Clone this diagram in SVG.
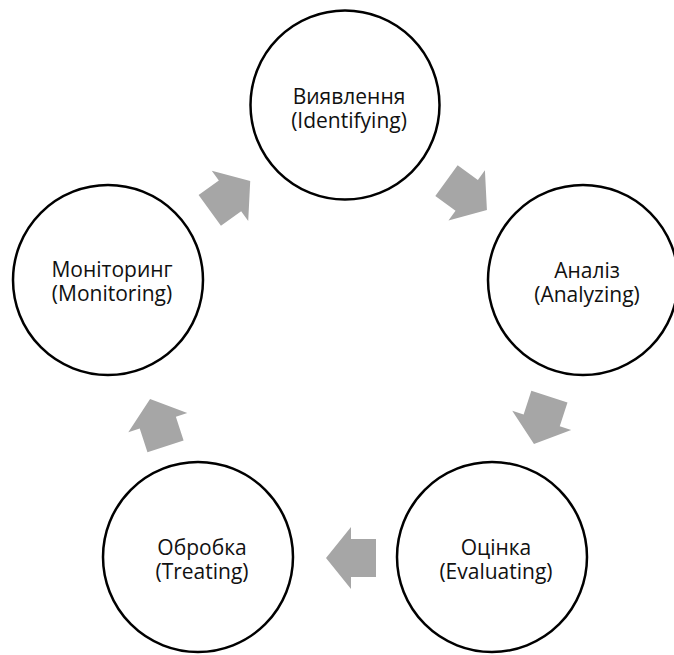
<svg xmlns="http://www.w3.org/2000/svg" width="674" height="655" viewBox="0 0 674 655">
<style>
.node circle{fill:#fff;stroke:#000;stroke-width:2.5}
.node text{font-family:"Open Sans","Liberation Sans",sans-serif;font-size:21px;fill:#111;text-anchor:middle}
.arr{fill:#a6a6a6}
</style>
<defs>
<path id="blk" d="M-25,-19 L0,-19 L0,-31 L25,0 L0,31 L0,19 L-25,19 Z"/>
</defs>
<rect width="674" height="655" fill="#fff"/>
<g id="connectors">
<use href="#blk" class="arr" transform="translate(466.7,195.3) rotate(36)"/>
<use href="#blk" class="arr" transform="translate(541.7,420.3) rotate(108)"/>
<use href="#blk" class="arr" transform="translate(351,558) rotate(180)"/>
<use href="#blk" class="arr" transform="translate(157.8,422.7) rotate(-108)"/>
<use href="#blk" class="arr" transform="translate(230,195.8) rotate(-36)"/>
</g>
<g id="identifying" class="node">
<circle cx="345" cy="105" r="94.5"/>
<text x="349" y="104">Виявлення</text>
<text x="349" y="128">(Identifying)</text>
</g>
<g id="analyzing" class="node">
<circle cx="583" cy="280" r="95"/>
<text x="587" y="278">Аналіз</text>
<text x="587" y="302">(Analyzing)</text>
</g>
<g id="evaluating" class="node">
<circle cx="492" cy="557" r="95"/>
<text x="496" y="555">Оцінка</text>
<text x="496" y="579">(Evaluating)</text>
</g>
<g id="treating" class="node">
<circle cx="198" cy="557" r="95"/>
<text x="202" y="555">Обробка</text>
<text x="202" y="579">(Treating)</text>
</g>
<g id="monitoring" class="node">
<circle cx="108" cy="280" r="95"/>
<text x="112" y="277">Моніторинг</text>
<text x="112" y="301">(Monitoring)</text>
</g>
</svg>
